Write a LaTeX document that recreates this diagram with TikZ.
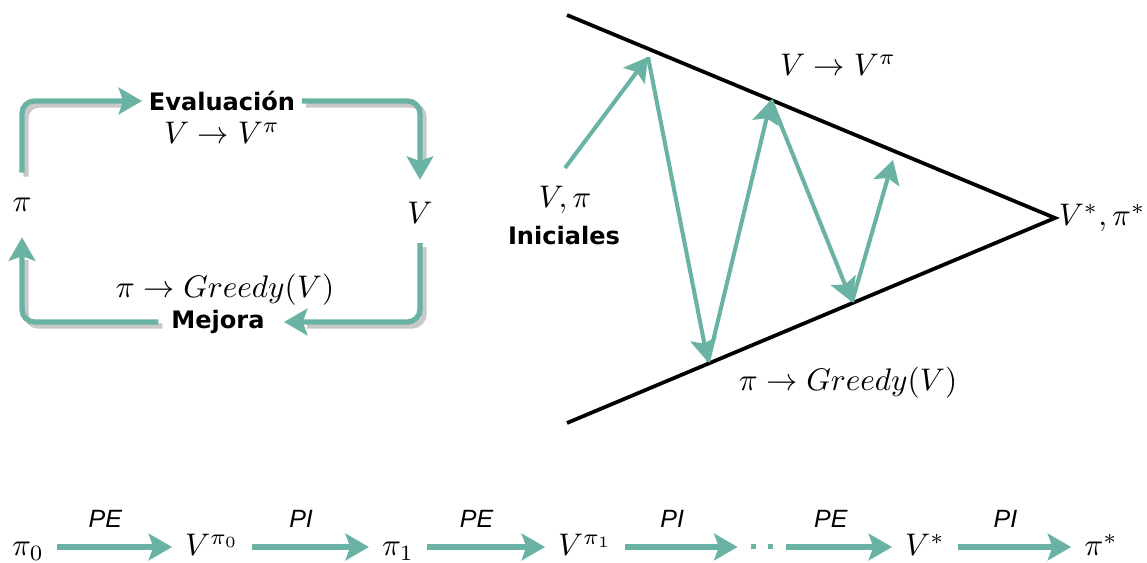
\documentclass[tikz,border=0pt]{standalone}
\usepackage{fontspec}
\usetikzlibrary{arrows.meta}

\newfontfamily\negrita{DejaVu Sans}
\newfontfamily\cursiva{Liberation Sans}
\definecolor{verde}{RGB}{106,178,164}
\definecolor{gris}{RGB}{200,200,200}

\tikzset{
	flecha/.style={draw=verde, line width=1.7pt, -{Stealth[length=7.5pt,width=8.5pt,inset=1.5pt]}},
	sombra/.style={draw=gris, line width=1.7pt, transform canvas={xshift=1.3pt,yshift=-1.3pt}},
	titulo/.style={font=\negrita\bfseries\fontsize{7.7}{9}\selectfont, inner sep=2pt},
	pasos/.style={font=\cursiva\itshape\fontsize{8}{9}\selectfont},
	estado/.style={inner sep=4pt, text height=1.5ex, text depth=.25ex},
}

\begin{document}
\begin{tikzpicture}[x=0.32pt, y=-0.32pt]
	\useasboundingbox (0,0) rectangle (1147,563);

	% 1. Ciclo: Evaluación / Mejora
	\node[titulo] (ev) at (222,101) {Evaluación};
	\node (evm) at (222,133) {$V\to V^{\pi}$};
	\node[inner sep=2pt] (vr) at (420,213) {$V$};
	\node[inner sep=2pt] (pl) at (22,205) {$\pi$};
	\node (grm) at (225,290) {$\pi\to Greedy(V)$};
	\node[titulo] (mj) at (218,322) {Mejora};

	\draw[sombra, rounded corners=4pt, shorten <=6pt, shorten >=6pt] (pl.north) |- (ev.west);
	\draw[sombra, rounded corners=4pt, shorten >=11pt] (ev.east) -| (vr.north);
	\draw[sombra, rounded corners=4pt, shorten <=4pt, shorten >=10pt] (vr.south) |- (mj.east);
	\draw[sombra, rounded corners=4pt, shorten <=2pt, shorten >=12pt] (mj.west) -| (pl.south);

	\draw[flecha, rounded corners=4pt, shorten <=6pt] (pl.north) |- (ev.west);
	\draw[flecha, rounded corners=4pt, shorten >=5pt] (ev.east) -| (vr.north);
	\draw[flecha, rounded corners=4pt, shorten <=4pt, shorten >=4pt] (vr.south) |- (mj.east);
	\draw[flecha, rounded corners=4pt, shorten <=2pt, shorten >=6pt] (mj.west) -| (pl.south);

	% 2. Convergencia hacia V*, pi*
	\coordinate (ta) at (567,15);
	\coordinate (tb) at (567,423);
	\coordinate (tv) at (1055,218);
	\draw[line width=1.2pt] (ta) -- (tv) -- (tb);

	\node (ini) at (565,200) {$V,\pi$};
	\node[titulo] (inil) at (564,236) {Iniciales};
	\node[anchor=west, inner sep=1pt] (opt) at (tv) {$V^*,\pi^*$};
	\node (evt) at (838,65) {$V\to V^{\pi}$};
	\node (grt) at (848,383) {$\pi\to Greedy(V)$};

	\coordinate (z0) at (565,168);
	\coordinate (z1) at (648,57);
	\coordinate (z2) at (708,362);
	\coordinate (z3) at (771,100);
	\coordinate (z4) at (852,302);
	\coordinate (z5) at (893,160);
	\draw[flecha, line width=1.3pt] (z0) -- (z1);
	\draw[flecha, line width=1.3pt] (z1) -- (z2);
	\draw[flecha, line width=1.3pt] (z2) -- (z3);
	\draw[flecha, line width=1.3pt] (z3) -- (z4);
	\draw[flecha, line width=1.3pt] (z4) -- (z5);

	% 3. Cadena PE / PI
	\node[estado] (p0) at (28,547) {$\pi_0$};
	\node[estado] (v0) at (212,547) {$V^{\pi_0}$};
	\node[estado] (p1) at (398,547) {$\pi_1$};
	\node[estado] (v1) at (585,547) {$V^{\pi_1}$};
	\node[estado, text=verde] (pun) at (762,547) {\rule[2pt]{1.6pt}{1.6pt}\hspace{4pt}\rule[2pt]{1.6pt}{1.6pt}};
	\node[estado] (vs) at (925,547) {$V^*$};
	\node[estado] (ps) at (1101,547) {$\pi^*$};

	\draw[flecha] (p0) -- (v0) node[pasos, pos=0.42, above=2pt] {PE};
	\draw[flecha] (v0) -- (p1) node[pasos, pos=0.42, above=2pt] {PI};
	\draw[flecha] (p1) -- (v1) node[pasos, pos=0.42, above=2pt] {PE};
	\draw[flecha] (v1) -- (pun) node[pasos, pos=0.42, above=2pt] {PI};
	\draw[flecha] (pun) -- (vs) node[pasos, pos=0.42, above=2pt] {PE};
	\draw[flecha] (vs) -- (ps) node[pasos, pos=0.42, above=2pt] {PI};
\end{tikzpicture}
\end{document}
